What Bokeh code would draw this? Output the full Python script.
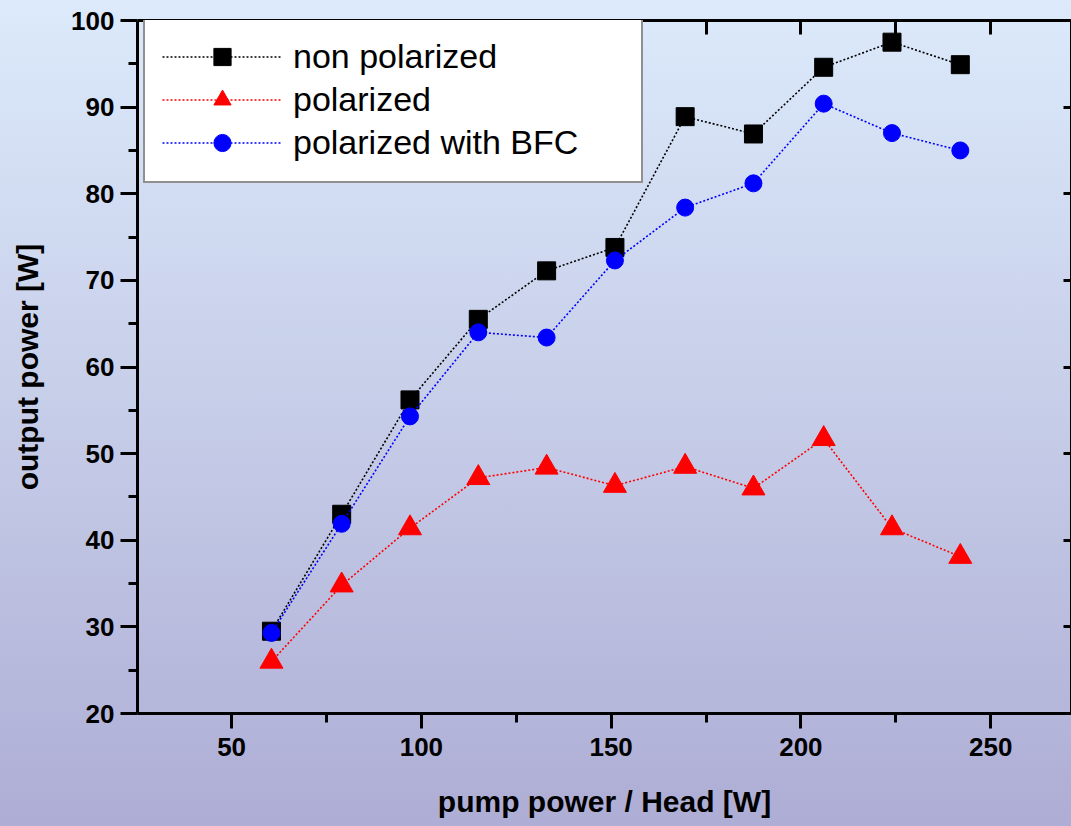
from bokeh.plotting import figure
from bokeh.models import Range1d, LinearAxis, FixedTicker, Legend, LegendItem
from bokeh.embed import file_html
from bokeh.resources import INLINE

# ---- data ----
pump_power = [60.5, 79.0, 97.0, 115.0, 133.0, 151.0, 169.5, 187.5, 206.0, 224.0, 242.0]
non_polarized = [29.5, 43.0, 56.2, 65.5, 71.1, 73.8, 88.9, 86.9, 94.6, 97.5, 94.9]
polarized = [26.0, 34.8, 41.4, 47.2, 48.4, 46.3, 48.5, 46.0, 51.7, 41.4, 38.1]
polarized_bfc = [29.3, 41.9, 54.3, 64.0, 63.4, 72.3, 78.4, 81.2, 90.4, 87.0, 85.0]

series_labels = ["non polarized", "polarized", "polarized with BFC"]
x_major = [50, 100, 150, 200, 250]
x_minor = [75, 125, 175, 225]
x_top = [25, 50, 75, 100, 125, 150, 175, 200, 225, 250, 275]
y_major = [20, 30, 40, 50, 60, 70, 80, 90, 100]
y_minor = [25, 35, 45, 55, 65, 75, 85, 95]

FONT = "Liberation Sans"

p = figure(width=1071, height=826,
           x_range=Range1d(25.2, 271.3), y_range=Range1d(20, 100),
           output_backend="svg", toolbar_location=None,
           min_border_left=137, min_border_right=0,
           min_border_top=20, min_border_bottom=113,
           x_axis_label="pump power / Head [W]",
           y_axis_label="output power [W]")
p.background_fill_alpha = 0
p.border_fill_alpha = 0
p.outline_line_color = None
p.grid.visible = False
p.styles = {
    "background": "linear-gradient(to bottom, #dceafb 0%, #c6cde8 50%, #aeadd5 100%)",
}

# bottom axis
xa = p.xaxis[0]
xa.ticker = FixedTicker(ticks=x_major, minor_ticks=x_minor)
xa.axis_line_width = 3
xa.axis_line_color = "black"
xa.major_tick_out = 15
xa.major_tick_in = 0
xa.minor_tick_out = 9
xa.minor_tick_in = 0
xa.major_tick_line_width = 3
xa.minor_tick_line_width = 3
xa.major_label_text_font = FONT
xa.major_label_text_font_style = "bold"
xa.major_label_text_font_size = "26px"
xa.major_label_text_color = "black"
xa.major_label_standoff = 9
xa.axis_label_text_font = FONT
xa.axis_label_text_font_style = "bold"
xa.axis_label_text_font_size = "30px"
xa.axis_label_text_color = "black"
xa.axis_label_standoff = 26

# left axis
ya = p.yaxis[0]
ya.ticker = FixedTicker(ticks=y_major, minor_ticks=y_minor)
ya.axis_line_width = 3
ya.axis_line_color = "black"
ya.major_tick_out = 17
ya.major_tick_in = 0
ya.minor_tick_out = 9
ya.minor_tick_in = 0
ya.major_tick_line_width = 3
ya.minor_tick_line_width = 3
ya.major_label_text_font = FONT
ya.major_label_text_font_style = "bold"
ya.major_label_text_font_size = "26px"
ya.major_label_text_color = "black"
ya.major_label_standoff = 6
ya.axis_label_text_font = FONT
ya.axis_label_text_font_style = "bold"
ya.axis_label_text_font_size = "30px"
ya.axis_label_text_color = "black"
ya.axis_label_standoff = 24

# top axis (ticks only, pointing inward)
top = LinearAxis(ticker=FixedTicker(ticks=x_top, minor_ticks=[]),
                 axis_line_width=3, major_tick_in=14, major_tick_out=0,
                 minor_tick_in=0, minor_tick_out=0, major_tick_line_width=3,
                 major_label_overrides={t: "" for t in x_top},
                 major_label_standoff=0)
p.add_layout(top, "above")

# right axis (ticks only, pointing inward)
right = LinearAxis(ticker=FixedTicker(ticks=y_major, minor_ticks=[]),
                   axis_line_width=3, major_tick_in=8, major_tick_out=0,
                   minor_tick_in=0, minor_tick_out=0, major_tick_line_width=3,
                   major_label_overrides={t: "" for t in y_major},
                   major_label_standoff=0)
p.add_layout(right, "right")

# series
l1 = p.line(pump_power, non_polarized, line_color="black", line_dash="2 2", line_width=1.6)
m1 = p.scatter(pump_power, non_polarized, marker="square", size=18, color="black")
l2 = p.line(pump_power, polarized, line_color="red", line_dash="2 2", line_width=1.6)
m2 = p.scatter(pump_power, polarized, marker="triangle", size=23, color="red")
l3 = p.line(pump_power, polarized_bfc, line_color="blue", line_dash="2 2", line_width=1.6)
m3 = p.scatter(pump_power, polarized_bfc, marker="circle", size=17, color="blue")

legend = Legend(items=[
    LegendItem(label=series_labels[0], renderers=[l1, m1]),
    LegendItem(label=series_labels[1], renderers=[l2, m2]),
    LegendItem(label=series_labels[2], renderers=[l3, m3]),
], location=(6, 530), margin=0, padding=17, spacing=0,
    glyph_width=120, glyph_height=43, label_height=43, label_standoff=11,
    label_width=331,
    label_text_font=FONT, label_text_font_size="34px", label_text_color="black",
    border_line_color="#222222", border_line_width=2,
    background_fill_color="white", background_fill_alpha=1)
p.add_layout(legend)

open("out.html", "w").write(file_html(p, INLINE))
